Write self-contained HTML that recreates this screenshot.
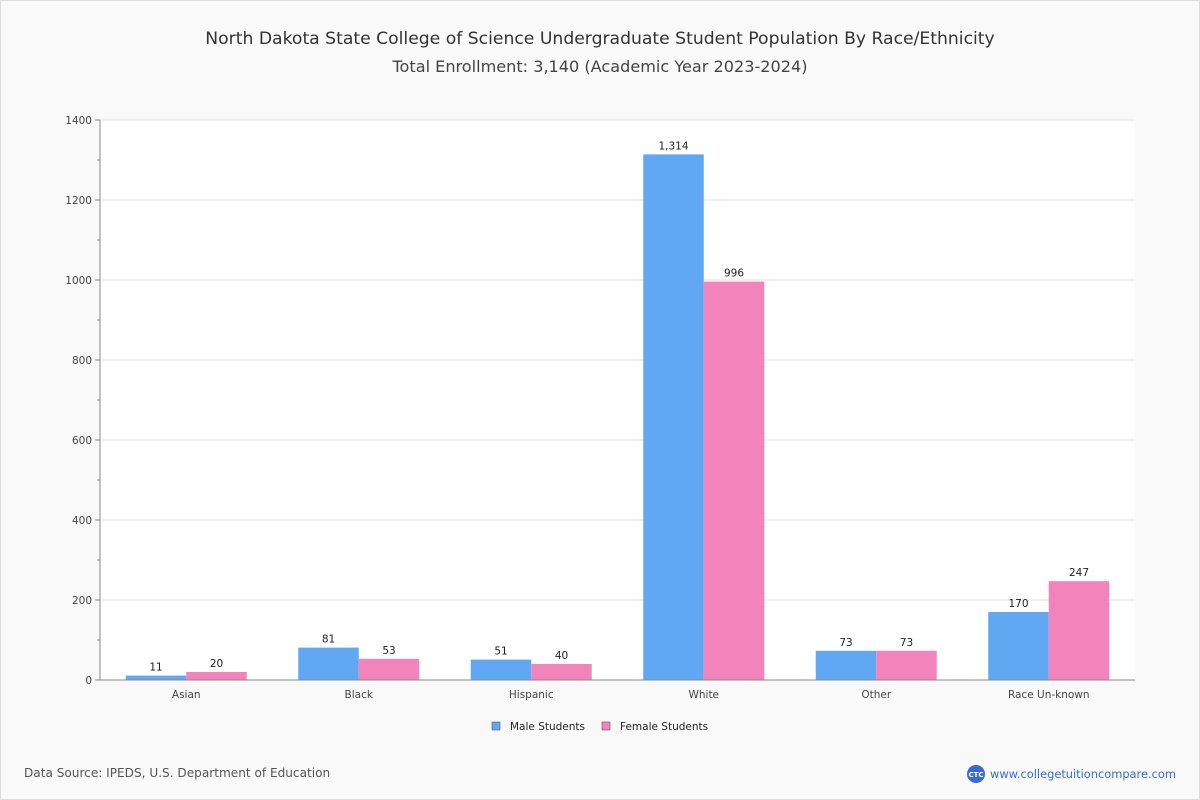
<!DOCTYPE html>
<html><head><meta charset="utf-8"><style>
body{margin:0;width:1200px;height:800px;background:#f9f9f9;font-family:"DejaVu Sans","Liberation Sans",sans-serif;}
#wrap{position:absolute;left:0;top:0;width:1198px;height:798px;border:1px solid #ddd;background:#f9f9f9;}
</style></head><body>
<div id="wrap">
<svg id="chart" width="1200" height="800" style="position:absolute;left:-1px;top:-1px">
<text x="600" y="44" text-anchor="middle" font-size="17.2" fill="#333">North Dakota State College of Science Undergraduate Student Population By Race/Ethnicity</text>
<text x="600" y="72" text-anchor="middle" font-size="16.1" fill="#444">Total Enrollment: 3,140 (Academic Year 2023-2024)</text>
<rect x="100" y="120" width="1035" height="560" fill="#fff"/>
<g id="grid"></g><g id="bars"></g><g id="axes"></g>
<g>
<rect x="492" y="722" width="8" height="8" fill="#60a8f2" stroke="#555" stroke-width="0.6"/>
<text x="510" y="730" font-size="10.5" fill="#222">Male Students</text>
<rect x="602" y="722" width="8" height="8" fill="#f283bb" stroke="#555" stroke-width="0.6"/>
<text x="620" y="730" font-size="10.5" fill="#222">Female Students</text>
</g>
<text x="24" y="777" font-size="12.1" fill="#555">Data Source: IPEDS, U.S. Department of Education</text>
<circle cx="976" cy="774" r="9" fill="#3a68d8"/>
<text x="976" y="777" text-anchor="middle" font-size="7" font-weight="bold" fill="#fff">CTC</text>
<text x="990" y="778" font-size="11.4" fill="#3a68d8">www.collegetuitioncompare.com</text>
</svg></div>
<script>
const categories=["Asian","Black","Hispanic","White","Other","Race Un-known"];
const maleValues=[11,81,51,1314,73,170];
const femaleValues=[20,53,40,996,73,247];
const yTicks=[0,200,400,600,800,1000,1200,1400];
const NS="http://www.w3.org/2000/svg";
const X0=100,X1=1135,Y0=680,Y1=120,YMAX=1400;
const y=v=>Y0-(v/YMAX)*(Y0-Y1);
const band=(X1-X0)/categories.length;
const xc=i=>X0+band*(i+0.5);
function mk(tag,attrs,parent){const e=document.createElementNS(NS,tag);for(const k in attrs)e.setAttribute(k,attrs[k]);document.getElementById(parent).appendChild(e);return e;}
yTicks.forEach(t=>{
 if(t>0){const g=mk("line",{x1:X0,x2:X1,y1:y(t),y2:y(t),stroke:"#e2e2e2"},"grid");
 
 }
 const tk=mk("line",{x1:X0-5,x2:X0,y1:y(t),y2:y(t),stroke:"#888"},"axes");
 
 
 const lb=mk("text",{x:X0-8,y:y(t)+4,"text-anchor":"end","font-size":"10.5",fill:"#444"},"axes");lb.textContent=t;
 
 
});
for(let t=100;t<YMAX;t+=200){const m=mk("line",{x1:X0-3,x2:X0,y1:y(t),y2:y(t),stroke:"#888"},"axes");
 
 }
const ya=mk("line",{x1:X0,x2:X0,y1:Y1,y2:Y0,stroke:"#888"},"axes");


const xa=mk("line",{x1:X0,x2:X1,y1:Y0,y2:Y0,stroke:"#888"},"axes");


const bw=60.5;
categories.forEach((c,i)=>{
 [[maleValues[i],"#60a8f2",-bw],[femaleValues[i],"#f283bb",0]].forEach(([v,col,off],j)=>{
  const r=mk("rect",{x:xc(i)+off,y:y(v),width:bw,height:Y0-y(v),fill:col},"bars");
  
  
  const t=mk("text",{x:xc(i)+off+bw/2,y:y(v)-5,"text-anchor":"middle","font-size":"10.5",fill:"#222"},"bars");
  t.textContent=v.toLocaleString("en-US");
  
  
 });
 const l=mk("text",{x:xc(i),y:Y0+18,"text-anchor":"middle","font-size":"10.5",fill:"#444"},"axes");l.textContent=c;
 
 
});
</script>
</body></html>
